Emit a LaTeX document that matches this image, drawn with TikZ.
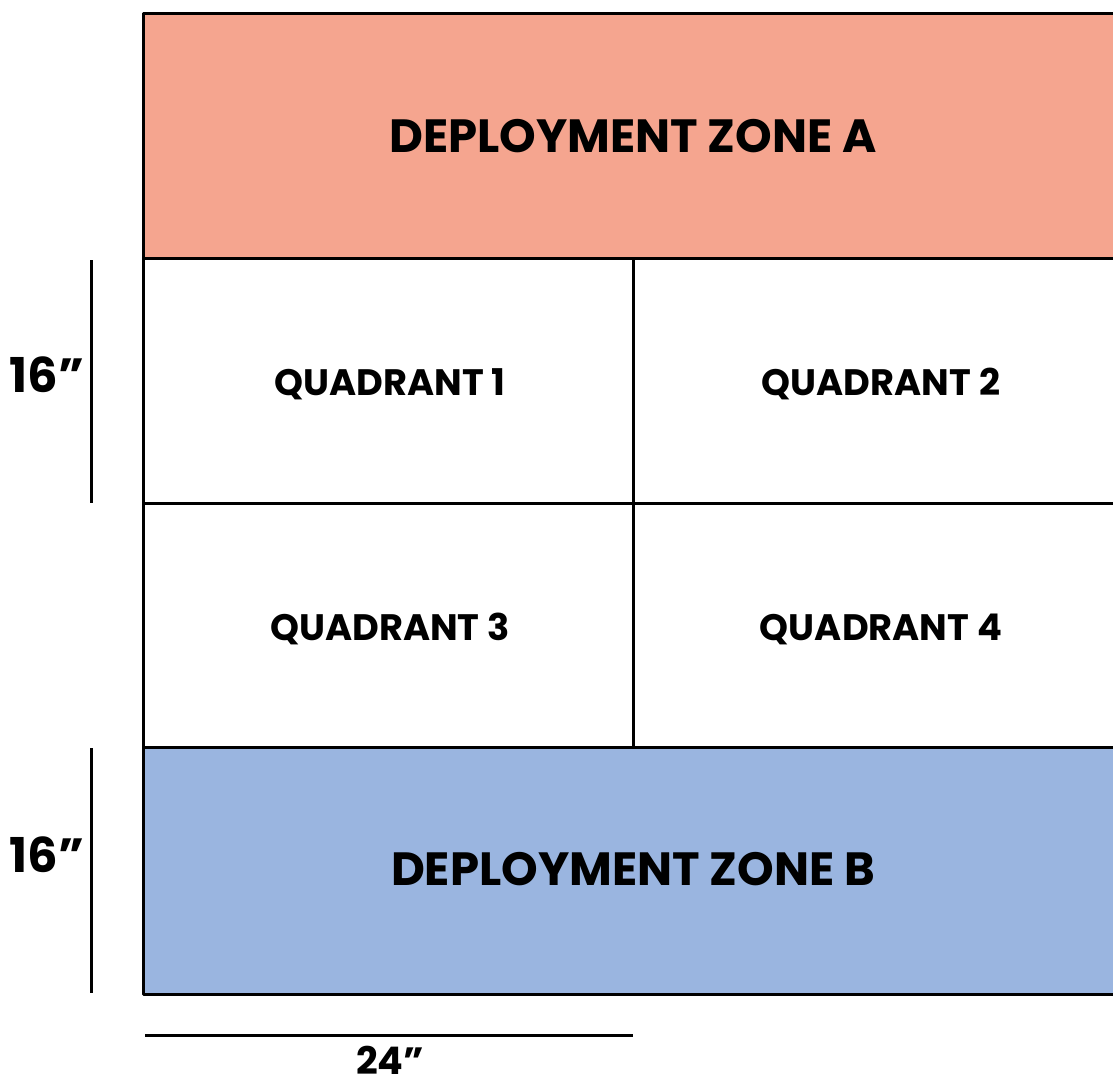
\documentclass[tikz,border=0pt]{standalone}
\usepackage{fontspec}
\setmainfont{Poppins}
\usetikzlibrary{positioning}

\begin{document}
\begin{tikzpicture}[x=0.5pt, y=-0.5pt,
    frame/.style={line width=1.5pt, line join=round},
    dimline/.style={line width=1.5pt},
    zonelabel/.style={anchor=base, font=\bfseries\fontsize{23.3}{28}\selectfont},
    quadlabel/.style={anchor=base, font=\bfseries\fontsize{18.4}{22}\selectfont},
    dimlabel/.style={anchor=base, font=\bfseries\fontsize{24}{30}\selectfont}]
    \definecolor{zone-a}{HTML}{F5A58F}
    \definecolor{zone-b}{HTML}{9AB5E0}

    \useasboundingbox (0,0) rectangle (1113,1084);

    % ZONE FILLS
    \fill[zone-a] (143,13)  rectangle (1113,258);
    \fill[zone-b] (143,747) rectangle (1113,994);

    % TABLE FRAME
    \draw[frame] (1113,13) -- (143,13) -- (143,994) -- (1113,994);
    \foreach \ypos in {258, 503, 747}
        \draw[frame] (143,\ypos) -- (1113,\ypos);
    \draw[frame] (633,258) -- (633,747);

    % ZONE LABELS
    \node[zonelabel] (zoneA) at (633,152) {DEPLOYMENT ZONE A};
    \node[zonelabel] (zoneB) at (633,885) {DEPLOYMENT ZONE B};

    % QUADRANT LABELS
    \node[quadlabel] (quad1) at (390,395) {QUADRANT 1};
    \node[quadlabel] (quad2) at (881,395) {QUADRANT 2};
    \node[quadlabel] (quad3) at (390,640) {QUADRANT 3};
    \node[quadlabel] (quad4) at (881,640) {QUADRANT 4};

    % DIMENSIONS
    \coordinate (dimA-top) at (91,260);
    \coordinate (dimA-bot) at (91,503);
    \coordinate (dimB-top) at (91,748);
    \coordinate (dimB-bot) at (91,993);
    \coordinate (dimW-left)  at (145,1035);
    \coordinate (dimW-right) at (633,1035);
    \draw[dimline] (dimA-top) -- (dimA-bot);
    \draw[dimline] (dimB-top) -- (dimB-bot);
    \draw[dimline] (dimW-left) -- (dimW-right);

    \node[dimlabel] (heightA) at (47,392) {16”};
    \node[dimlabel] (heightB) at (47,872) {16”};
    \node[dimlabel, inner sep=0pt, text depth=0pt,
        font=\bfseries\fontsize{19}{24}\selectfont]
        (width) at (390,1074) {24”};
\end{tikzpicture}
\end{document}
